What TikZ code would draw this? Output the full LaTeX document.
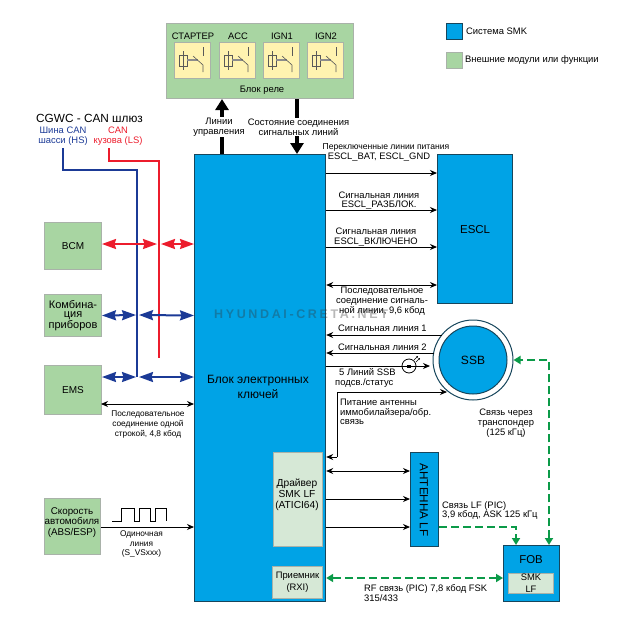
\documentclass[tikz,border=0pt]{standalone}
\usepackage{fontspec}
\setmainfont{Liberation Sans}
\newfontfamily\wmfont[LetterSpace=21]{Liberation Sans}
\usetikzlibrary{arrows.meta}
\definecolor{smkblue}{HTML}{00A3E6}
\definecolor{smkedge}{HTML}{17465C}
\definecolor{extgreen}{HTML}{A8D5A2}
\definecolor{extedge}{HTML}{A9B2A9}
\definecolor{innergreen}{HTML}{D6E8D6}
\definecolor{relayfill}{HTML}{FFF3B0}
\definecolor{canblue}{HTML}{1B3A96}
\definecolor{canred}{HTML}{EC1C2C}
\definecolor{rfgreen}{HTML}{0B9A48}
\tikzset{
  smkbox/.style={draw=smkedge,line width=1.2pt,fill=smkblue,anchor=north west,inner sep=0pt,align=center},
  extbox/.style={draw=extedge,line width=1pt,fill=extgreen,anchor=north west,inner sep=0pt,align=center},
  innerbox/.style={draw=extedge,line width=1pt,fill=innergreen,anchor=north west,inner sep=0pt,align=center},
  relaybox/.style={draw=extedge,line width=1pt,fill=relayfill,anchor=north west,minimum width=36pt,minimum height=36pt,inner sep=0pt},
  lbl/.style={inner sep=0pt,align=center,font=\fontsize{9.4}{9.7}\selectfont},
  lblleft/.style={inner sep=0pt,align=left,anchor=west,font=\fontsize{9.4}{9.7}\selectfont},
  sig/.style={line width=.9pt,-{Stealth[length=7pt,width=6pt]}},
  sigboth/.style={line width=.9pt,{Stealth[length=7pt,width=6pt]}-{Stealth[length=7pt,width=6pt]}},
  bus/.style={line width=2pt,{Stealth[length=14pt,width=10pt,inset=1.5pt]}-{Stealth[length=14pt,width=10pt,inset=1.5pt]}},
  wire/.style={line width=2pt},
  fat/.style={line width=3.6pt,-{Stealth[length=11pt,width=13pt,inset=0pt]}},
  rf/.style={line width=2pt,color=rfgreen,dash pattern=on 8pt off 4pt},
  rfboth/.style={rf,{Stealth[length=7pt,width=8pt,inset=0pt]}-{Stealth[length=7pt,width=8pt,inset=0pt]}},
  rfend/.style={rf,-{Stealth[length=7pt,width=8pt,inset=0pt]}}
}
\begin{document}
\begin{tikzpicture}[x=1pt,y=-1pt]
  \useasboundingbox (0,0) rectangle (623,630);

  % blocks
  \node [extbox,minimum width=187pt,minimum height=75pt] (rele) at (166,23) {};
  \node [lbl] (relelabel) at (262,90) {Блок реле};
  \node [smkbox,minimum width=131pt,minimum height=447pt] (ebk) at (194,154) {};
  \node [lbl,font=\fontsize{12}{15}\selectfont] (ebklabel) at (258,387) {Блок электронных\\ключей};
  \node [smkbox,minimum width=75pt,minimum height=149pt,font=\fontsize{11.5}{12}\selectfont] (escl) at (437,154) {ESCL};
  \node [extbox,minimum width=57pt,minimum height=47pt,font=\fontsize{10}{11}\selectfont] (bcm) at (44,222) {BCM};
  \node [extbox,minimum width=57pt,minimum height=42pt,font=\fontsize{11}{9.5}\selectfont] (kombi) at (44,294) {Комбина-\\ция\\приборов};
  \node [extbox,minimum width=57pt,minimum height=49pt,font=\fontsize{10}{11}\selectfont] (ems) at (44,365) {EMS};
  \node [extbox,minimum width=56pt,minimum height=56pt] (speed) at (44,498) {};
  \node [lbl,font=\fontsize{9.8}{10.7}\selectfont] (speedlabel) at (72,522.5) {Скорость\\автомобиля\\(ABS/ESP)};
  \node [innerbox,minimum width=49pt,minimum height=94pt] (drv) at (273,452) {};
  \node [lbl,font=\fontsize{10.2}{11}\selectfont] (drvlabel) at (297,495) {Драйвер\\SMK LF\\(ATICI64)};
  \node [innerbox,minimum width=50pt,minimum height=32pt,font=\fontsize{9.4}{12}\selectfont] (rxi) at (272,566) {Приемник\\(RXI)};
  \node [smkbox,minimum width=28pt,minimum height=94pt] (ant) at (410,452) {};
  \node [lbl,rotate=-90,font=\fontsize{11.7}{12}\selectfont] (antlabel) at (424,500) {АНТЕННА LF};
  \node [smkbox,minimum width=56pt,minimum height=56pt] (fob) at (503,545) {};
  \node [lbl,font=\fontsize{11.4}{12}\selectfont] (foblabel) at (531,560) {FOB};
  \node [innerbox,minimum width=45pt,minimum height=20pt,font=\fontsize{9.4}{12}\selectfont] (smklf) at (508,573) {SMK\\LF};

  % SSB
  \node [circle,draw=smkedge,line width=1pt,fill=white,minimum size=80pt,inner sep=0pt] (ssbo) at (473,360) {};
  \node [circle,draw=smkedge,line width=1pt,fill=smkblue,minimum size=68pt,inner sep=0pt,font=\fontsize{12}{12}\selectfont] (ssb) at (473,360) {SSB};

  % relays
  \foreach \x/\name/\txt in {174/start/СТАРТЕР,219/acc/ACC,263/ignone/IGN1,307/igntwo/IGN2} {
    \node [relaybox] (\name) at (\x,42) {};
    \node [lbl] (\name label) at (\x+19,36) {\txt};
    \draw [line width=.6pt,color=black!65] (\x+9,51) -- (\x+9,70);
    \draw [line width=.6pt,color=black!65] (\x+5,55) rectangle (\x+13,66);
    \draw [line width=1.5pt,color=black!45] (\x+13,60) -- (\x+24,60);
    \draw [line width=.6pt,color=black!65] (\x+19,56) -- (\x+29,65) -- (\x+29,72);
    \draw [line width=.6pt,color=black!65] (\x+29,47) -- (\x+29,56);
  }

  % legend
  \node [smkbox,minimum width=16pt,minimum height=16pt] (legsmk) at (446,23) {};
  \node [lblleft] (legsmklabel) at (466,31) {Система SMK};
  \node [extbox,minimum width=16pt,minimum height=16pt] (legext) at (446,52) {};
  \node [lblleft] (legextlabel) at (465,60) {Внешние модули или функции};

  % CAN
  \node [lbl,font=\fontsize{11.8}{12}\selectfont] (cgwc) at (89.5,118) {CGWC - CAN шлюз};
  \node [lbl,color=canblue] (canhs) at (63,136) {Шина CAN\\шасси (HS)};
  \node [lbl,color=canred] (canls) at (118,136) {CAN\\кузова (LS)};
  \coordinate (hsend) at (137,377);
  \coordinate (lsend) at (159,358);
  \coordinate (bcmbus) at (0,244);
  \draw [wire,color=canred] (109,148) |- (159,161) -- (lsend);
  \draw [wire,color=canblue] (63,148) |- (137,170) -- (hsend);
  \draw [bus,color=canred] (bcm.east |- bcmbus) -- (157,244);
  \draw [bus,color=canred] (161,244) -- (ebk.west |- bcmbus);
  \draw [bus,color=canblue] (kombi.east) -- (136,315);
  \draw [bus,color=canblue] (139,315) -- (ebk.west |- kombi.east);
  \draw [bus,color=canblue] (ems.east |- hsend) -- (136,377);
  \draw [bus,color=canblue] (139,377) -- (ebk.west |- hsend);
  \coordinate (emsser) at (101,404);
  \draw [sigboth] (emsser) -- (ebk.west |- emsser);
  \node [lbl,font=\fontsize{8.3}{9.6}\selectfont] (emslabel) at (148,424.5) {Последовательное\\соединение одной\\строкой, 4,8 кбод};

  % speed
  \draw [sig] (speed.east |- 0,527) -- (ebk.west |- 0,527);
  \draw [line width=.7pt] (112,521) -- (121,521) -- (121,508) -- (134,508) -- (134,521) -- (139,521) -- (139,508) -- (150,508) -- (150,521) -- (155,521) -- (155,508) -- (166,508) -- (166,521);
  \node [lbl,font=\fontsize{8.3}{9.6}\selectfont] (vslabel) at (141.5,544) {Одиночная\\линия\\(S\_VSxxx)};

  % top
  \coordinate (ctrl) at (222,100);
  \coordinate (stat) at (297,100);
  \draw [fat] (ctrl |- ebk.north) -- (ctrl |- rele.south);
  \draw [fat] (stat |- rele.south) -- (stat |- ebk.north);
  \node [lbl,fill=white,inner sep=1pt] (ctrllabel) at (219,127) {Линии\\управления};
  \node [lbl,fill=white,inner sep=1pt] (statlabel) at (298.5,127) {Состояние соединения\\сигнальных линий};

  % ESCL
  \foreach \y/\name in {173/bat,210/raz,247/vkl} {
    \coordinate (\name) at (330,\y);
    \draw [sig] (ebk.east |- \name) -- (escl.west |- \name);
  }
  \coordinate (ser) at (330,285);
  \draw [sigboth] (ebk.east |- ser) -- (escl.west |- ser);
  \node [lbl,font=\fontsize{8.6}{9.6}\selectfont] (batlabel) at (386,147) {Переключенные линии питания};
  \node [lbl] (batlabelb) at (379,157) {ESCL\_BAT, ESCL\_GND};
  \node [lbl] (razlabel) at (379,200.5) {Сигнальная линия\\ESCL\_РАЗБЛОК.};
  \node [lbl] (vkllabel) at (376,237) {Сигнальная линия\\ESCL\_ВКЛЮЧЕНО};
  \node [lbl] (serlabel) at (382,301) {Последовательное\\соединение сигналь-\\ной линии, 9,6 кбод};

  % SSB lines
  \foreach \y/\xx/\name in {335/442/one,353/434/two} {
    \coordinate (\name) at (\xx,\y);
    \draw [sig] (\name) -- (ebk.east |- \name);
  }
  \coordinate (led) at (409,366);
  \draw [sig] (ebk.east |- led) -- (430,366);
  \node [circle,draw,line width=.8pt,minimum size=14pt,inner sep=0pt] (ledc) at (led) {};
  \fill (407,364.5) rectangle (411,367.5);
  \draw [line width=.5pt,-{Stealth[length=2pt,width=2pt]}] (414,360) -- (418,356);
  \draw [line width=.5pt,-{Stealth[length=2pt,width=2pt]}] (416,362) -- (420,358);
  \node [lblleft] (onelabel) at (338,328) {Сигнальная линия 1};
  \node [lblleft] (twolabel) at (338,347) {Сигнальная линия 2};
  \node [lblleft] (ledlabel) at (335,378) {\hspace{4pt}5 Линий SSB\\подсв./статус};
  \node [lblleft] (pitlabel) at (340,412) {Питание антенны\\иммобилайзера/обр.\\связь};
  \coordinate (pit) at (337,392);
  \draw [line width=.9pt] (337,457) -- (pit);
  \draw [sig] (pit) -- (447,392);
  \draw [sig] (337,457) -- (ebk.east |- 0,457);
  \node [lbl] (translabel) at (506,423) {Связь через\\транспондер\\(125 кГц)};

  % antenna
  \foreach \y/\name in {499/antb,527/antc} {
    \coordinate (\name) at (330,\y);
    \draw [sig] (ebk.east |- \name) -- (ant.west |- \name);
  }
  \coordinate (anta) at (330,471);
  \draw [sigboth] (ebk.east |- anta) -- (ant.west |- anta);
  \node [lblleft] (lflabel) at (442,510.5) {Связь LF (PIC)\\3,9 кбод, ASK 125 кГц};

  % green lines
  \draw [rfboth] (549,545) -- (549,360) -- (ssbo.east);
  \draw [rfend] (ant.east |- antc) -| (516,545);
  \coordinate (rfl) at (330,578);
  \draw [rfboth] (ebk.east |- rfl) -- (fob.west |- rfl);
  \node [lblleft] (rflabel) at (364,593) {RF связь (PIC) 7,8 кбод FSK\\315/433};

  % watermark
  \node [inner sep=0pt,anchor=west,opacity=.35,color=black!80,font=\fontsize{12.5}{14}\wmfont\bfseries] (wm) at (214,314) {HYUNDAI-CRETA.NET};
\end{tikzpicture}
\end{document}
